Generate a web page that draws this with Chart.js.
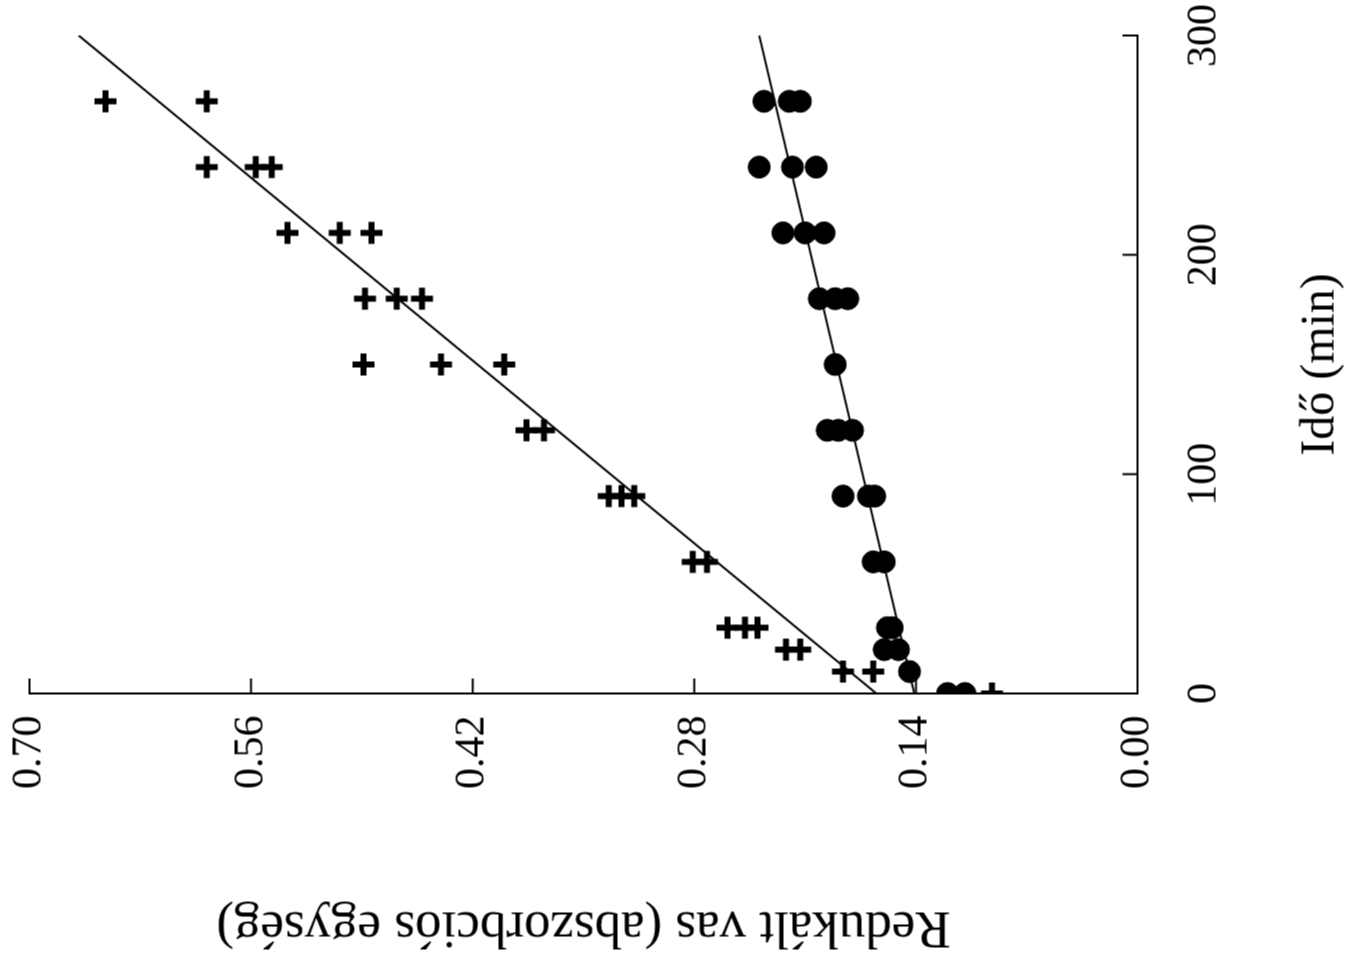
<!DOCTYPE html>
<html>
<head>
<meta charset="utf-8">
<script src="https://cdn.jsdelivr.net/npm/chart.js@4"></script>
<style>
  html, body { margin: 0; padding: 0; background: #fff; }
  #page { position: relative; width: 1351px; height: 966px; overflow: hidden; background: #fff; }
  /* the chart is drawn upright, then turned a quarter to the left like the scan */
  #turn { position: absolute; left: 192.5px; top: -192.5px; width: 966px; height: 1351px; transform: rotate(-90deg); }
</style>
</head>
<body>
<div id="page">
  <div id="turn"><canvas id="chart" width="966" height="1351"></canvas></div>
</div>
<script>
// ido (min) es redukalt vas ertekek, leolvasva az abrarol
const crossTime  = [270, 270, 240, 240, 240, 210, 210, 210, 180, 180, 180, 150, 150, 150, 120, 120, 90, 90, 90, 60, 60, 30, 30, 30, 20, 20, 10, 10, 0];
const crossValue = [0.652, 0.588, 0.588, 0.557, 0.547, 0.537, 0.504, 0.484, 0.488, 0.468, 0.452, 0.489, 0.440, 0.400, 0.386, 0.375, 0.334, 0.326, 0.318, 0.281, 0.272, 0.259, 0.248, 0.240, 0.222, 0.213, 0.186, 0.167, 0.092];

const dotTime  = [270, 270, 270, 240, 240, 240, 210, 210, 210, 180, 180, 180, 150, 120, 120, 120, 90, 90, 90, 60, 60, 30, 30, 20, 20, 10, 0, 0];
const dotValue = [0.236, 0.220, 0.213, 0.239, 0.218, 0.203, 0.224, 0.210, 0.198, 0.201, 0.191, 0.183, 0.191, 0.196, 0.189, 0.180, 0.186, 0.170, 0.166, 0.167, 0.160, 0.158, 0.155, 0.160, 0.151, 0.144, 0.120, 0.109];

// illesztett egyenesek vegpontjai
const fitTime     = [0, 300];
const crossFit    = [0.165, 0.669];
const dotFit      = [0.141, 0.239];

const timeTicks  = [0, 100, 200, 300];
const valueTicks = [0, 0.14, 0.28, 0.42, 0.56, 0.70];

const toPoints = (xs, ys) => xs.map((x, i) => ({ x, y: ys[i] }));

const serif = 'Liberation Serif';

// befele allo osztasjelek
const innerTicks = {
  id: 'innerTicks',
  afterDraw(chart) {
    const { ctx, chartArea } = chart;
    const x = chart.scales.x;
    const y = chart.scales.y;
    ctx.save();
    ctx.strokeStyle = '#000';
    ctx.lineWidth = 2;
    ctx.beginPath();
    timeTicks.slice(1).forEach((t) => {
      const px = x.getPixelForValue(t);
      ctx.moveTo(px, chartArea.bottom);
      ctx.lineTo(px, chartArea.bottom - 15);
    });
    valueTicks.slice(1).forEach((v) => {
      const py = y.getPixelForValue(v);
      ctx.moveTo(chartArea.left, py);
      ctx.lineTo(chartArea.left + 15, py);
    });
    ctx.stroke();
    ctx.restore();
  },
};

const ctx = document.getElementById('chart').getContext('2d');

new Chart(ctx, {
  type: 'scatter',
  data: {
    datasets: [
      {
        data: toPoints(fitTime, crossFit),
        showLine: true,
        borderColor: '#000',
        borderWidth: 2,
        pointRadius: 0,
      },
      {
        data: toPoints(fitTime, dotFit),
        showLine: true,
        borderColor: '#000',
        borderWidth: 2,
        pointRadius: 0,
      },
      {
        data: toPoints(crossTime, crossValue),
        pointStyle: 'cross',
        pointRadius: 11,
        borderWidth: 6,
        borderColor: '#000',
        backgroundColor: '#000',
      },
      {
        data: toPoints(dotTime, dotValue),
        pointStyle: 'circle',
        pointRadius: 11,
        borderWidth: 1,
        borderColor: '#000',
        backgroundColor: '#000',
      },
    ],
  },
  options: {
    responsive: false,
    animation: false,
    layout: { padding: { left: 0, top: 29, right: 35, bottom: 0 } },
    plugins: {
      legend: { display: false },
      tooltip: { enabled: false },
    },
    scales: {
      x: {
        type: 'linear',
        min: 0,
        max: 300,
        afterBuildTicks: (s) => { s.ticks = timeTicks.map((v) => ({ value: v })); },
        afterFit: (s) => {
          s.height = 214;
          s.paddingLeft = 0;
          s.paddingRight = 0;
        },
        grid: { display: false, drawTicks: false },
        border: { display: true, color: '#000', width: 2 },
        ticks: {
          color: '#000',
          font: { family: serif, size: 42 },
          padding: 42,
          maxRotation: 0,
          autoSkip: false,
        },
        title: {
          display: true,
          text: 'Idő (min)',
          color: '#000',
          font: { family: serif, size: 48 },
          padding: { top: 0, bottom: 2 },
        },
      },
      y: {
        type: 'linear',
        min: 0,
        max: 0.70,
        afterBuildTicks: (s) => { s.ticks = valueTicks.map((v) => ({ value: v })); },
        afterFit: (s) => {
          s.width = 273;
          s.paddingTop = 0;
          s.paddingBottom = 0;
        },
        grid: { display: false, drawTicks: false },
        border: { display: true, color: '#000', width: 2 },
        ticks: {
          color: '#000',
          font: { family: serif, size: 42 },
          padding: 22,
          autoSkip: false,
          callback: (v) => Number(v).toFixed(2),
        },
        title: {
          display: true,
          text: 'Redukált vas (abszorbciós egység)',
          color: '#000',
          font: { family: serif, size: 53 },
          padding: { top: 8, bottom: 0 },
        },
      },
    },
  },
  plugins: [innerTicks],
});
</script>
</body>
</html>
